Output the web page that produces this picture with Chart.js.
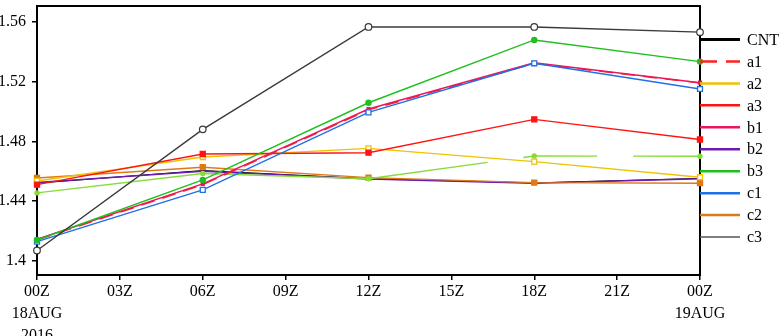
<!DOCTYPE html>
<html>
<head>
<meta charset="utf-8">
<script src="https://cdn.jsdelivr.net/npm/chart.js@4.4.0/dist/chart.umd.min.js"></script>
<style>
    html, body { margin: 0; padding: 0; background: #fff; }
    #wrap { width: 779px; height: 336px; }
</style>
</head>
<body>
<div id="wrap"><canvas id="chart"></canvas></div>
<script>
// Datos (horas desde 00Z 18AUG)
const hours = [0, 6, 12, 18, 24];
const xTickLabels = ['00Z', '03Z', '06Z', '09Z', '12Z', '15Z', '18Z', '21Z', '00Z'];
const xDateLabels = ['18AUG', '', '', '', '', '', '', '', '19AUG'];
const xYearLabels = ['2016', '', '', '', '', '', '', '', ''];
const yTicks = [1.4, 1.44, 1.48, 1.52, 1.56];

const cnt = [1.4520, 1.4605, 1.4550, 1.4522, 1.4552];
const a1 = [1.4140, 1.4510, 1.5010, 1.5320, 1.5190];
const a2 = [1.4535, 1.4695, 1.4753, 1.4664, 1.4560];
const a3 = [1.4510, 1.4715, 1.4724, 1.4947, 1.4812];
const b1 = [1.4145, 1.4515, 1.5016, 1.5325, 1.5192];
const b2 = [1.4525, 1.4600, 1.4548, 1.4520, 1.4550];
const b3 = [1.4140, 1.4542, 1.5058, 1.5478, 1.5333];
const c1 = [1.4129, 1.4475, 1.4994, 1.5322, 1.5150];
const c2 = [1.4555, 1.4627, 1.4557, 1.4524, 1.4520];
const c3 = [1.4070, 1.4880, 1.5565, 1.5565, 1.5530];
const extra = [1.4455, 1.4585, 1.4550, 1.4702, 1.4700];

const serif = "'Liberation Serif', 'Times New Roman', serif";

function serie(label, values, color, opts) {
    return Object.assign({
        label: label,
        data: values.map((v, i) => ({ x: hours[i], y: v })),
        borderColor: color,
        backgroundColor: color,
        borderWidth: 1.4,
        pointRadius: 0,
        pointStyle: 'rect',
        fill: false,
        tension: 0,
        clip: false,
        legendWidth: 2.5
    }, opts || {});
}

const datasets = [
    serie('c3', c3, '#3a3a3a', { pointStyle: 'circle', pointRadius: 3.3, backgroundColor: '#fff', pointBorderWidth: 1.2, legendColor: '#555', legendWidth: 1.5 }),
    serie('b3', b3, '#1fbf1f', { pointStyle: 'circle', pointRadius: 2.5 }),
    serie('c1', c1, '#1f6fe8', { pointRadius: 3.5, backgroundColor: '#fff', pointBorderWidth: 1.3 }),
    serie('b1', b1, '#e8185a', { pointRadius: 2 }),
    serie('a1', a1, '#ff2020', { borderDash: [14, 8], legendDash: [17, 9] }),
    serie('a3', a3, '#ff1414', { pointRadius: 3.5 }),
    serie('a2', a2, '#ecc400', { pointRadius: 3.5, backgroundColor: '#fff', pointBorderWidth: 1.3 }),
    serie('', extra, '#86dc3a', { borderDash: [453, 36, 74, 36], pointStyle: 'circle', pointRadius: 2 }),
    serie('c2', c2, '#e07818', { pointRadius: 3.5 }),
    serie('b2', b2, '#6a1bb0'),
    serie('CNT', cnt, '#000000', { borderWidth: 1, legendWidth: 3 })
];

// Orden de la leyenda
const legendOrder = ['CNT', 'a1', 'a2', 'a3', 'b1', 'b2', 'b3', 'c1', 'c2', 'c3'];

// Marco negro alrededor del area
const framePlugin = {
    id: 'frame',
    beforeDatasetsDraw(chart) {
        const a = chart.chartArea;
        const ctx = chart.ctx;
        ctx.save();
        ctx.strokeStyle = '#000';
        ctx.lineWidth = 2;
        ctx.strokeRect(a.left, a.top, a.right - a.left, a.bottom - a.top);
        ctx.restore();
    }
};

// Leyenda a la derecha, pegada al marco
const legendPlugin = {
    id: 'sideLegend',
    afterDraw(chart) {
        const a = chart.chartArea;
        const ctx = chart.ctx;
        ctx.save();
        legendOrder.forEach((name, i) => {
            const ds = chart.data.datasets.find(d => d.label === name);
            const y = 39.5 + i * 21.95;
            ctx.strokeStyle = ds.legendColor || ds.borderColor;
            ctx.lineWidth = ds.legendWidth;
            ctx.setLineDash(ds.legendDash || []);
            ctx.beginPath();
            ctx.moveTo(a.right, y);
            ctx.lineTo(a.right + 40, y);
            ctx.stroke();
            ctx.setLineDash([]);
            ctx.fillStyle = '#000';
            ctx.font = '16px ' + serif;
            ctx.textBaseline = 'middle';
            ctx.textAlign = 'left';
            ctx.fillText(name, a.right + 47, y + 1);
        });
        ctx.restore();
    }
};

new Chart(document.getElementById('chart'), {
    type: 'line',
    data: { datasets: datasets },
    plugins: [framePlugin, legendPlugin],
    options: {
        responsive: true,
        maintainAspectRatio: false,
        animation: false,
        layout: { padding: { top: 6, right: 79, left: 0, bottom: 0 } },
        plugins: {
            legend: { display: false },
            tooltip: { enabled: false }
        },
        scales: {
            x: {
                type: 'linear',
                min: 0,
                max: 24,
                afterBuildTicks: (scale) => {
                    scale.ticks = xTickLabels.map((_, i) => ({ value: i * 3 }));
                },
                afterFit: (scale) => { scale.height = 61; },
                border: { display: false },
                grid: { drawOnChartArea: false, drawTicks: true, tickLength: 5, color: '#000', lineWidth: 1.5 },
                ticks: {
                    color: '#000',
                    padding: 1,
                    maxRotation: 0,
                    autoSkip: false,
                    font: { family: serif, size: 16, lineHeight: 1.375 },
                    callback: function(value) {
                        const i = Math.round(value / 3);
                        return [xTickLabels[i], xDateLabels[i], xYearLabels[i]].filter(s => s);
                    }
                }
            },
            y: {
                min: 1.3906,
                max: 1.5705,
                afterBuildTicks: (scale) => {
                    scale.ticks = yTicks.map(v => ({ value: v }));
                },
                afterFit: (scale) => {
                    scale.width = 37;
                    scale.paddingTop = 0;
                    scale.paddingBottom = 0;
                },
                border: { display: false },
                grid: { drawOnChartArea: false, drawTicks: true, tickLength: 5, color: '#000', lineWidth: 1.5 },
                ticks: {
                    color: '#000',
                    padding: 6,
                    font: { family: serif, size: 16 },
                    callback: (value) => String(Math.round(value * 100) / 100)
                }
            }
        }
    }
});
</script>
</body>
</html>
